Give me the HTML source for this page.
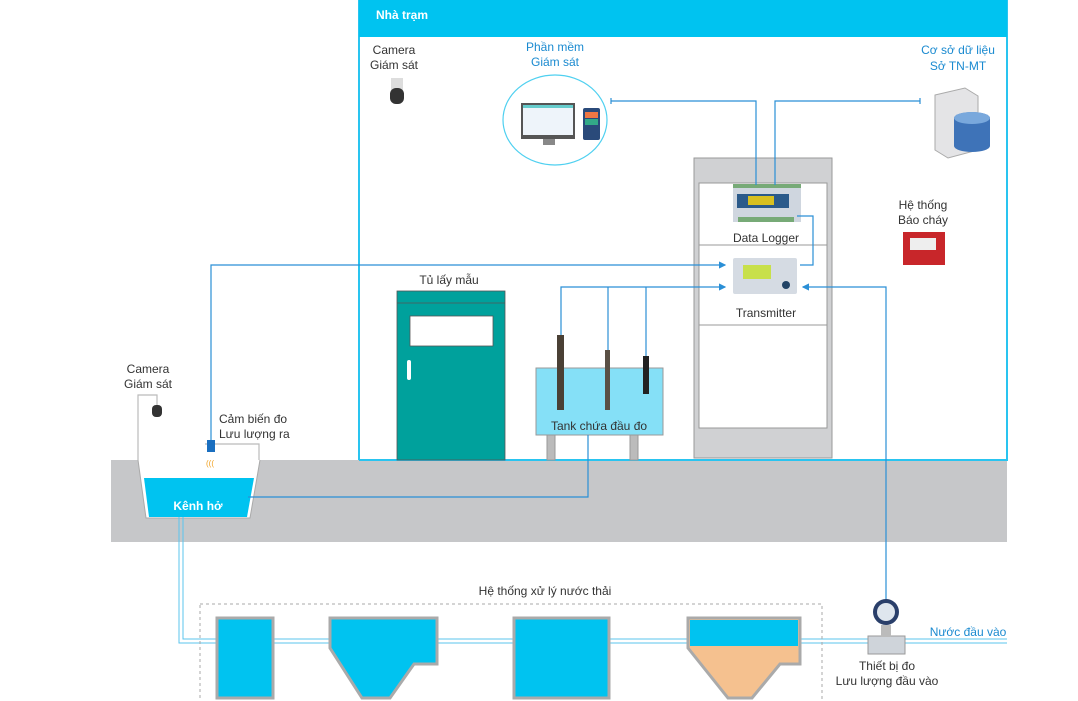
<!DOCTYPE html>
<html><head><meta charset="utf-8"><style>
body{margin:0;background:#fff;}
svg{display:block;font-family:"Liberation Sans","Noto Sans CJK SC",sans-serif;}
</style></head><body>
<svg width="1078" height="701" viewBox="0 0 1078 701" xmlns="http://www.w3.org/2000/svg">
<defs>
<marker id="ar" markerWidth="6" markerHeight="6" refX="5" refY="3" orient="auto"><path d="M0,0 L6,3 L0,6z" fill="#2a8fd6"/></marker>
</defs>
<!-- station -->
<rect x="359" y="0" width="648" height="460" fill="#fff" stroke="#29c4f0" stroke-width="2"/>
<rect x="359" y="0" width="648" height="37" fill="#00c3f0"/>
<text x="376" y="19" font-size="12" font-weight="bold" fill="#fff">Nhà trạm</text>
<!-- ground -->
<rect x="111" y="460" width="896" height="82" fill="#c6c7c9"/>
<line x1="359" y1="460" x2="1007" y2="460" stroke="#29c4f0" stroke-width="2"/>
<!-- open channel -->
<polygon points="138,460 260,460 250,518 146,518" fill="#fff"/>
<polygon points="144,478 254,478 247,517 149,517" fill="#00c3f0"/>
<polyline points="138,460 146,518 250,518 260,460" fill="none" stroke="#aaa" stroke-width="1"/>
<text x="198" y="510" font-size="12" font-weight="bold" fill="#fff" text-anchor="middle">Kênh hở</text>
<polyline points="138,460 138,395 157,395 157,405" fill="none" stroke="#bbb" stroke-width="1.2"/>
<rect x="152" y="405" width="10" height="12" rx="4" fill="#333"/>
<polyline points="205,444 259,444 259,460" fill="none" stroke="#bbb" stroke-width="1.2"/>
<rect x="207" y="440" width="8" height="12" fill="#1a6fc0"/>
<text x="210" y="466" font-size="8" fill="#f0a020" text-anchor="middle">(((</text>
<text x="148" y="373" font-size="12" fill="#333" text-anchor="middle">Camera</text>
<text x="148" y="388" font-size="12" fill="#333" text-anchor="middle">Giám sát</text>
<text x="219" y="423" font-size="12" fill="#333">Cảm biến đo</text>
<text x="219" y="438" font-size="12" fill="#333">Lưu lượng ra</text>
<!-- station camera -->
<text x="394" y="54" font-size="12" fill="#333" text-anchor="middle">Camera</text>
<text x="394" y="69" font-size="12" fill="#333" text-anchor="middle">Giám sát</text>
<rect x="391" y="78" width="12" height="12" fill="#ddd"/>
<rect x="390" y="88" width="14" height="16" rx="6" fill="#333"/>
<!-- software -->
<text x="555" y="51" font-size="12" fill="#1a8ad0" text-anchor="middle">Phần mềm</text>
<text x="555" y="66" font-size="12" fill="#1a8ad0" text-anchor="middle">Giám sát</text>
<ellipse cx="555" cy="120" rx="52" ry="45" fill="#fff" stroke="#4fd0f0" stroke-width="1.2"/>
<rect x="521" y="103" width="54" height="36" fill="#555"/>
<rect x="523" y="105" width="50" height="30" fill="#eef4fa"/>
<rect x="523" y="105" width="50" height="3" fill="#6cc"/>
<rect x="543" y="139" width="12" height="6" fill="#888"/>
<rect x="583" y="108" width="17" height="32" rx="2" fill="#2a4a7a"/>
<rect x="585" y="112" width="13" height="6" fill="#e74"/>
<rect x="585" y="119" width="13" height="6" fill="#3a8"/>
<!-- database -->
<text x="958" y="54" font-size="12" fill="#1a8ad0" text-anchor="middle">Cơ sở dữ liệu</text>
<text x="958" y="70" font-size="12" fill="#1a8ad0" text-anchor="middle">Sở TN-MT</text>
<polygon points="935,95 965,88 978,96 978,150 948,158 935,150" fill="#e4e4e6" stroke="#aaa"/>
<ellipse cx="972" cy="118" rx="18" ry="6" fill="#5b8fcf"/>
<rect x="954" y="118" width="36" height="28" fill="#3e73b8"/>
<ellipse cx="972" cy="146" rx="18" ry="6" fill="#3e73b8"/>
<ellipse cx="972" cy="118" rx="18" ry="6" fill="#79a8dc"/>
<!-- fire -->
<text x="923" y="209" font-size="12" fill="#333" text-anchor="middle">Hệ thống</text>
<text x="923" y="224" font-size="12" fill="#333" text-anchor="middle">Báo cháy</text>
<rect x="903" y="232" width="42" height="33" fill="#c8262a"/>
<rect x="910" y="238" width="26" height="12" fill="#eee"/>
<!-- cabinet -->
<rect x="694" y="158" width="138" height="300" fill="#d0d1d3" stroke="#999"/>
<rect x="699" y="183" width="128" height="245" fill="#fff" stroke="#999"/>
<line x1="699" y1="245" x2="827" y2="245" stroke="#999"/>
<line x1="699" y1="325" x2="827" y2="325" stroke="#999"/>
<rect x="733" y="188" width="68" height="34" fill="#cfd6df"/>
<rect x="737" y="194" width="52" height="14" fill="#2b5a8a"/>
<rect x="748" y="196" width="26" height="9" fill="#d8c020"/>
<rect x="733" y="184" width="68" height="4" fill="#7a7"/>
<rect x="738" y="217" width="56" height="5" fill="#7a7"/>
<text x="766" y="242" font-size="12" fill="#333" text-anchor="middle">Data Logger</text>
<rect x="733" y="258" width="64" height="36" rx="2" fill="#d5dbe3"/>
<rect x="743" y="265" width="28" height="14" fill="#c8e04a"/>
<circle cx="786" cy="285" r="4" fill="#246"/>
<text x="766" y="317" font-size="12" fill="#333" text-anchor="middle">Transmitter</text>
<!-- sampler -->
<text x="449" y="284" font-size="12" fill="#333" text-anchor="middle">Tủ lấy mẫu</text>
<rect x="397" y="291" width="108" height="169" fill="#00a19c" stroke="#555" stroke-width="0.8"/>
<line x1="397" y1="303" x2="505" y2="303" stroke="#555" stroke-width="0.8"/>
<rect x="410" y="316" width="83" height="30" fill="#fff" stroke="#555" stroke-width="0.8"/>
<rect x="407" y="360" width="4" height="20" rx="2" fill="#fff"/>
<!-- tank -->
<rect x="547" y="435" width="8" height="25" fill="#bbb" stroke="#999"/>
<rect x="630" y="435" width="8" height="25" fill="#bbb" stroke="#999"/>
<rect x="536" y="368" width="127" height="67" fill="#85e0f7" stroke="#999"/>
<text x="599" y="430" font-size="12" fill="#333" text-anchor="middle">Tank chứa đầu đo</text>
<rect x="557" y="335" width="7" height="75" fill="#4a4035"/>
<rect x="605" y="350" width="5" height="60" fill="#5a5045"/>
<rect x="643" y="356" width="6" height="38" fill="#222"/>
<!-- connectors -->
<g fill="none" stroke="#2a8fd6" stroke-width="1.2">
<polyline points="211,440 211,265 725,265" marker-end="url(#ar)"/>
<polyline points="561,335 561,287 725,287" marker-end="url(#ar)"/>
<line x1="608" y1="287" x2="608" y2="350"/>
<line x1="646" y1="287" x2="646" y2="356"/>
<polyline points="588,435 588,497 248,497"/>
<polyline points="886,600 886,287 803,287" marker-end="url(#ar)"/>
<polyline points="797,216 813,216 813,265 800,265"/>
<polyline points="756,185 756,101 611,101"/>
<line x1="611" y1="98" x2="611" y2="104"/>
<polyline points="775,185 775,101 920,101"/>
<line x1="920" y1="98" x2="920" y2="104"/>
</g>
<!-- pipe -->
<g fill="none" stroke="#5bc4ee" stroke-width="1">
<polyline points="179,517 179,643 1007,643"/>
<polyline points="183,517 183,639 1007,639"/>
</g>
<!-- treatment -->
<text x="545" y="595" font-size="12" fill="#333" text-anchor="middle">Hệ thống xử lý nước thải</text>
<rect x="200" y="604" width="622" height="100" fill="none" stroke="#aaa" stroke-dasharray="3,3"/>
<rect x="217" y="618" width="56" height="80" fill="#00c3f0" stroke="#aaa" stroke-width="3"/>
<polygon points="330,618 437,618 437,664 414,664 390,698 362,698 330,648" fill="#00c3f0" stroke="#aaa" stroke-width="3"/>
<rect x="514" y="618" width="95" height="80" fill="#00c3f0" stroke="#aaa" stroke-width="3"/>
<polygon points="688,618 800,618 800,664 780,664 752,698 728,698 688,648" fill="#f5c18f" stroke="#aaa" stroke-width="3"/>
<rect x="690" y="620" width="108" height="26" fill="#00c3f0"/>
<!-- flow meter -->
<rect x="868" y="636" width="37" height="18" fill="#cfd4da" stroke="#999"/>
<rect x="881" y="625" width="10" height="12" fill="#bbb"/>
<circle cx="886" cy="612" r="13" fill="#2a3f6a"/>
<circle cx="886" cy="612" r="9" fill="#dfe6ee"/>
<text x="968" y="636" font-size="12" fill="#1a8ad0" text-anchor="middle">Nước đầu vào</text>
<text x="887" y="670" font-size="12" fill="#333" text-anchor="middle">Thiết bị đo</text>
<text x="887" y="685" font-size="12" fill="#333" text-anchor="middle">Lưu lượng đầu vào</text>
</svg>
</body></html>
